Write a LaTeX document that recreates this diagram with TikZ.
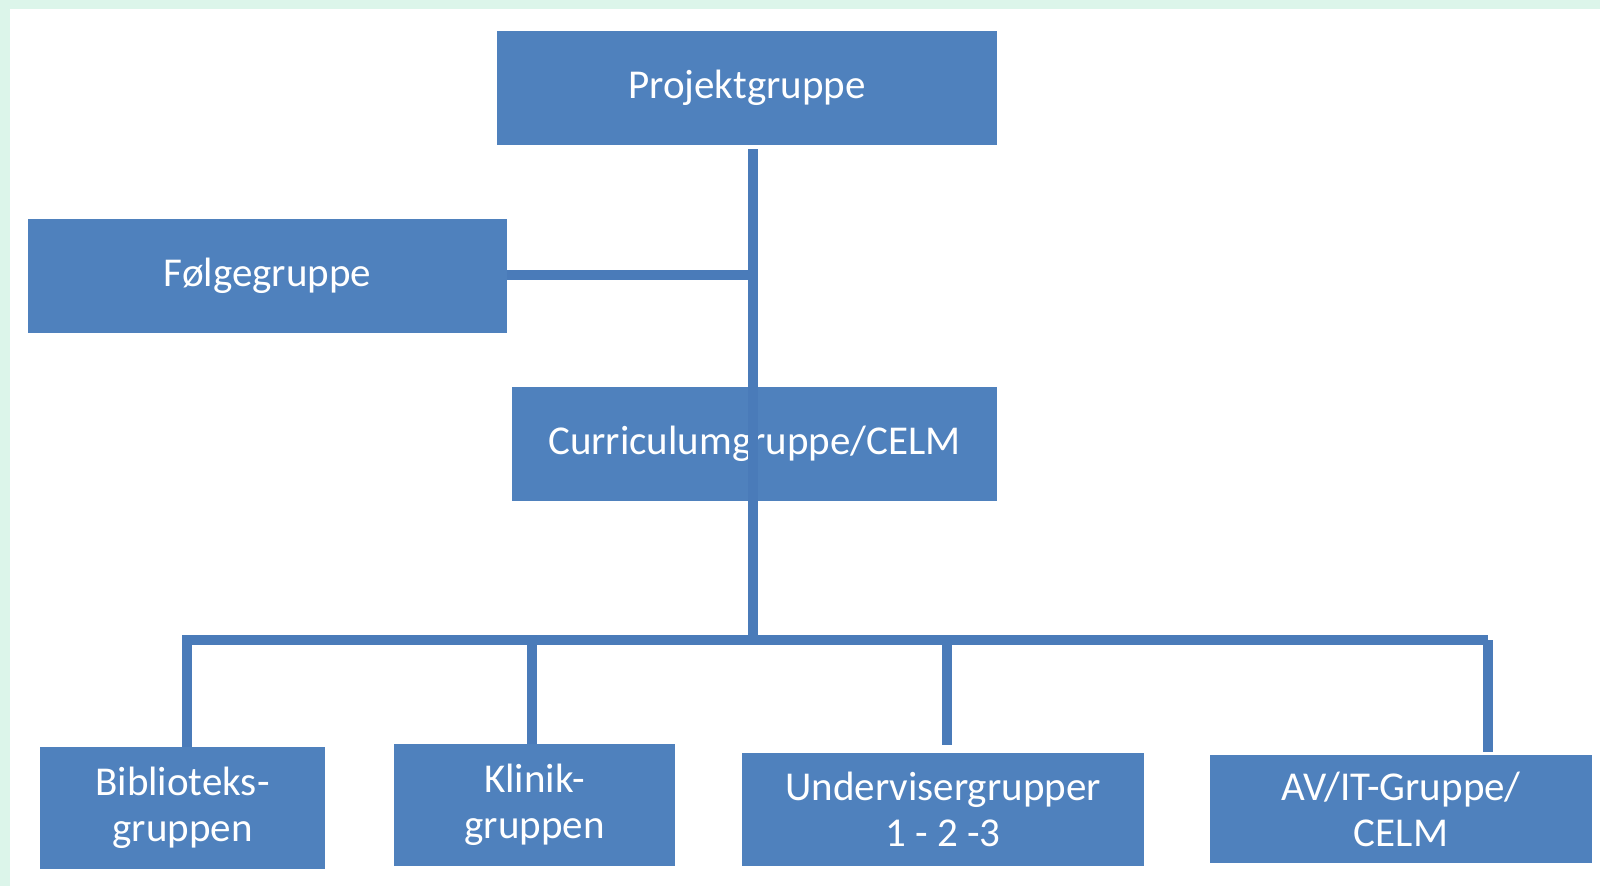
\documentclass[tikz,border=0pt]{standalone}
\usepackage{fontspec}
\setmainfont{Carlito}
\definecolor{boxblue}{HTML}{4F81BD}
\definecolor{lineblue}{HTML}{4A7BB9}
\definecolor{bggreen}{HTML}{DCF5EA}
\begin{document}
\begin{tikzpicture}[x=1pt,y=-1pt,
  orgbox/.style={fill=boxblue, draw=none, inner sep=0pt, text=white, align=center,
    font=\fontsize{41}{46}\selectfont},
  conn/.style={draw=lineblue, line width=10.5pt}]
\useasboundingbox (0,0) rectangle (1600,886);
\fill[bggreen] (0,0) rectangle (1600,886);
\fill[white] (10,9) rectangle (1600,886);

\node[orgbox, minimum width=500pt, minimum height=114pt] (P) at (747,88) {Projektgruppe};
\node[orgbox, minimum width=479pt, minimum height=114pt] (F) at (267.5,276) {Følgegruppe};
\node[orgbox, minimum width=485pt, minimum height=114pt] (C) at (754.5,444) {Curriculumgruppe/CELM};
\node[orgbox, minimum width=285pt, minimum height=122pt] (B) at (182.5,808) {Biblioteks-\\gruppen};
\node[orgbox, minimum width=281pt, minimum height=122pt] (K) at (534.5,805) {Klinik-\\gruppen};
\node[orgbox, minimum width=402pt, minimum height=113pt] (U) at (943,809.5) {Undervisergrupper\\1 - 2 -3};
\node[orgbox, minimum width=382pt, minimum height=108pt] (A) at (1401,809) {AV/IT-Gruppe/\\CELM};

\coordinate (top) at (753,149);
\coordinate (busC) at (753,640);
\coordinate (busL) at (182,640);
\coordinate (busR) at (1488,640);
\coordinate (fj) at (753,275);

\draw[conn] (top) -- (busC);
\draw[conn] (F.east |- fj) -- (fj);
\draw[conn] (busL) -- (busR);
\draw[conn] (187,640) -- (B.north -| 187,0);
\draw[conn] (532,640) -- (K.north -| 532,0);
\draw[conn] (947,640) -- ([yshift=8pt]U.north -| 947,0);
\draw[conn] (busR) -- ([yshift=3pt]A.north -| busR);
\end{tikzpicture}
\end{document}
